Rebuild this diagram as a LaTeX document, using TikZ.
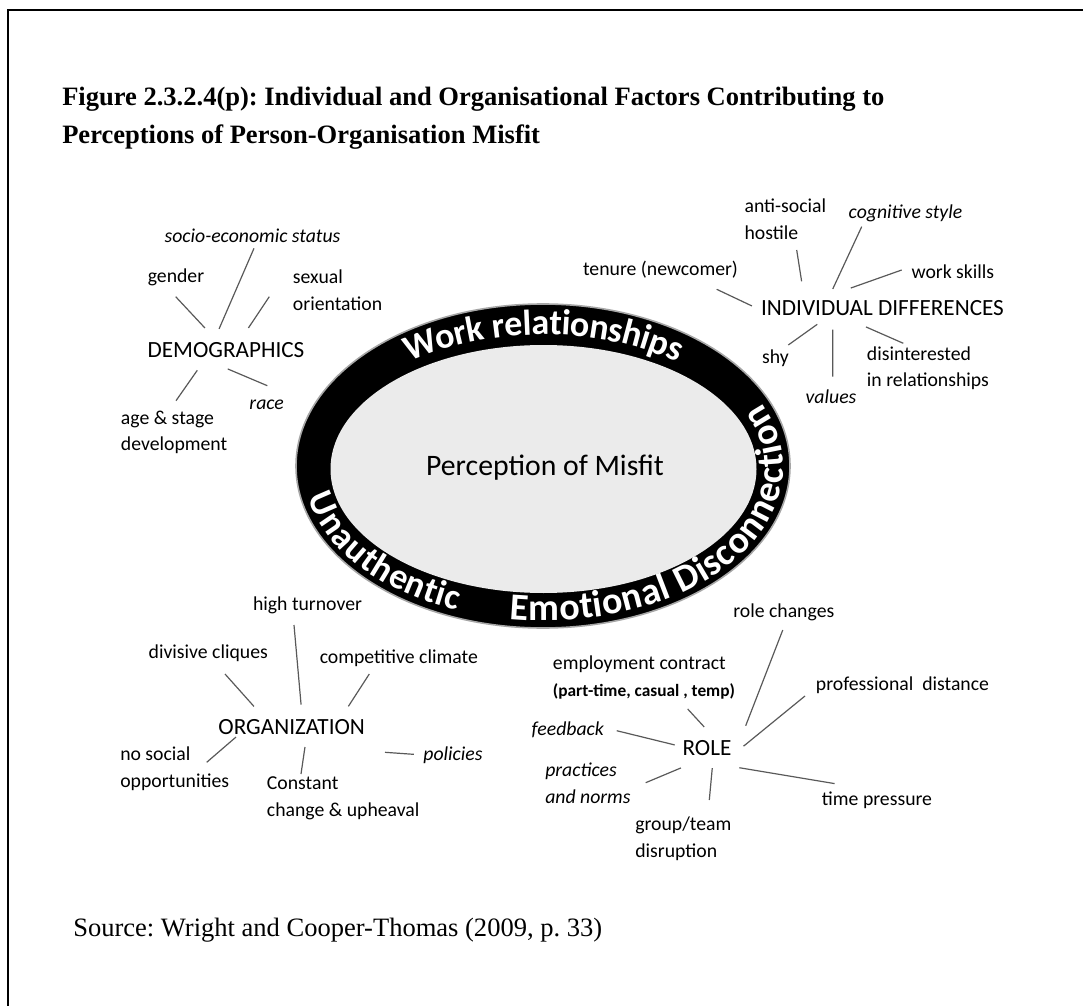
\documentclass[tikz,border=0pt]{standalone}
\usepackage{fontspec}
\setmainfont{Liberation Serif}
\newfontfamily\carl{Carlito}
\usetikzlibrary{decorations.text}
\frenchspacing

\newcommand\ringfont{\carl\bfseries\fontsize{27}{30}\selectfont}
\newcommand\ringfontb{\carl\bfseries\fontsize{28.5}{31}\selectfont}

\tikzset{
  lbl/.style={font=\carl\fontsize{14.8}{20}\selectfont, inner sep=0pt, align=left},
  ilbl/.style={lbl, font=\carl\itshape\fontsize{14.8}{20}\selectfont},
  hub/.style={font=\carl\fontsize{17.4}{21}\selectfont, inner sep=0pt},
  spoke/.style={draw=black!65, line width=0.9pt},
  ringtext/.style={decorate, decoration={text along path, text align=center, raise=-7.5pt, text color=white}},
  heading/.style={anchor=base west, inner sep=0pt, font=\bfseries\fontsize{19.9}{24}\selectfont}
}

\begin{document}
\begin{tikzpicture}[x=0.75pt, y=0.75pt]
    \useasboundingbox (0,0) rectangle (1083,-1006);
    \draw[line width=1.3pt] (8,-1006) -- (8,-10) -- (1083,-10);

    \node[heading] (title1) at (62,-106) {Figure 2.3.2.4(p): Individual and Organisational Factors Contributing to};
    \node[heading] (title2) at (62,-144) {Perceptions of Person-Organisation Misfit};
    \node[heading, font=\fontsize{19.9}{24}\selectfont] (source) at (73,-936) {Source: Wright and Cooper-Thomas (2009, p. 33)};

    % the ring
    \fill[black, draw=black!35, line width=1.2pt] (543,-466) ellipse [x radius=185.25pt, y radius=121.5pt];
    \fill[black!8] (543.5,-469) ellipse [x radius=159.75pt, y radius=93pt];
    \path[ringtext, decoration={text={|\ringfont|Work relationships}}] (543.5,-467.5) ++(150:172.5pt and 107.25pt) arc[start angle=150, end angle=30, x radius=172.5pt, y radius=107.25pt];
    \path[ringtext, decoration={text={|\ringfont|Unauthentic}}] (543.5,-467.5) ++(165:172.5pt and 107.25pt) arc[start angle=165, end angle=265, x radius=172.5pt, y radius=107.25pt];
    \path[ringtext, decoration={text={|\ringfontb|Emotional Disconnection}}] (543.5,-467.5) ++(248:172.5pt and 107.25pt) arc[start angle=248, end angle=402, x radius=172.5pt, y radius=107.25pt];
    \node[font=\carl\fontsize{22.3}{26}\selectfont, inner sep=0pt] (misfit) at (545,-468) {Perception of Misfit};

    % demographics
    \node[hub] (demo) at (226,-350) {DEMOGRAPHICS};
    \node[ilbl] (socio) at (252.5,-236) {socio-economic status};
    \node[lbl] (gender) at (176,-277) {gender};
    \node[lbl, anchor=west] (sexual) at (292.7,-290) {sexual\\orientation};
    \node[ilbl] (race) at (266.7,-405) {race};
    \node[lbl, anchor=west] (age) at (120.7,-432.5) {age \& stage\\development};
    \coordinate (gender-e) at (175.7,-296.7);
    \coordinate (socio-e) at (254,-248.3);
    \coordinate (sexual-e) at (269.3,-296.7);
    \coordinate (age-e) at (176,-400.7);
    \coordinate (race-e) at (267.3,-385.7);
    \draw[spoke, shorten <=14.5pt] ([xshift=-5.9pt]demo.north) -- (gender-e);
    \draw[spoke, shorten <=10.8pt] ([xshift=-9.5pt]demo.north) -- (socio-e);
    \draw[spoke, shorten <=12.8pt] ([xshift=9.7pt]demo.north) -- (sexual-e);
    \draw[spoke, shorten <=11.4pt] ([xshift=-15pt]demo.south) -- (age-e);
    \draw[spoke, shorten <=21.3pt] ([xshift=-18.3pt]demo.south) -- (race-e);

    % individual differences
    \node[hub] (indiv) at (882.5,-308.3) {INDIVIDUAL DIFFERENCES};
    \node[lbl, anchor=west] (hostile) at (744.3,-219) {anti-social\\hostile};
    \node[ilbl] (cogn) at (905.5,-213) {cognitive style};
    \node[lbl] (tenure) at (660.5,-270) {tenure (newcomer)};
    \node[lbl] (skills) at (952.9,-271.7) {work skills};
    \node[lbl] (shy) at (775.5,-358) {shy};
    \node[ilbl] (values) at (831,-396.7) {values};
    \node[lbl, anchor=west] (disint) at (866.7,-368.4) {disinterested\\in relationships};
    \coordinate (tenure-e) at (716.7,-289.3);
    \coordinate (hostile-e) at (796.7,-250);
    \coordinate (cogn-e) at (861.7,-226.7);
    \coordinate (skills-e) at (901.7,-270);
    \coordinate (shy-e) at (788.3,-345);
    \coordinate (values-e) at (832.7,-376.7);
    \coordinate (disint-e) at (903.3,-343.3);
    \draw[spoke, shorten <=7.4pt] ([yshift=-1.4pt]indiv.west) -- (tenure-e);
    \draw[spoke, shorten <=14.5pt] ([xshift=-58.4pt]indiv.north) -- (hostile-e);
    \draw[spoke, shorten <=9.5pt] ([xshift=-41.3pt]indiv.north) -- (cogn-e);
    \draw[spoke, shorten <=27.8pt] ([xshift=-50pt]indiv.north) -- (skills-e);
    \draw[spoke, shorten <=10.5pt] ([xshift=-40.4pt]indiv.south) -- (shy-e);
    \draw[spoke, shorten <=10.1pt] ([xshift=-37.4pt]indiv.south) -- (values-e);
    \draw[spoke, shorten <=20.1pt] ([xshift=-30.8pt]indiv.south) -- (disint-e);

    % organization
    \node[hub] (org) at (291.7,-727) {ORGANIZATION};
    \node[lbl] (turnover) at (307.5,-605) {high turnover};
    \node[lbl] (cliques) at (208.3,-653) {divisive cliques};
    \node[lbl] (climate) at (398.8,-658) {competitive climate};
    \node[lbl, anchor=west] (nosocial) at (120,-768.5) {no social\\opportunities};
    \node[lbl, anchor=west] (constant) at (266.7,-798.5) {Constant\\change \& upheaval};
    \node[ilbl] (policies) at (453,-755) {policies};
    \coordinate (turnover-e) at (294,-625);
    \coordinate (cliques-e) at (225,-674);
    \coordinate (climate-e) at (369.3,-674);
    \coordinate (nosocial-e) at (206.7,-762.3);
    \coordinate (constant-e) at (301,-774);
    \coordinate (policies-e) at (385,-752.3);
    \draw[spoke, shorten <=10.9pt] ([xshift=8pt]org.north) -- (turnover-e);
    \draw[spoke, shorten <=12.8pt] ([xshift=-19.8pt]org.north) -- (cliques-e);
    \draw[spoke, shorten <=11.4pt] ([xshift=36.3pt]org.north) -- (climate-e);
    \draw[spoke, shorten <=2.5pt] ([xshift=-39.9pt]org.south) -- (nosocial-e);
    \draw[spoke, shorten <=9.2pt] ([xshift=11.3pt]org.south) -- (constant-e);
    \draw[spoke, shorten <=7pt] (policies.west) -- (policies-e);

    % role
    \node[hub] (role) at (707,-748) {ROLE};
    \node[lbl] (rolechg) at (783.8,-612) {role changes};
    \node[lbl, anchor=west] (contract) at (552.7,-677.5) {employment contract\\{\bfseries\fontsize{13}{20}\selectfont (part-time, casual , temp)}};
    \node[lbl] (distance) at (902.5,-685) {professional~ distance};
    \node[ilbl] (feedback) at (567.8,-730) {feedback};
    \node[ilbl, anchor=west] (practices) at (545,-783.5) {practices\\and norms};
    \node[lbl] (pressure) at (877,-800) {time pressure};
    \node[lbl, anchor=west] (team) at (635,-838.5) {group/team\\disruption};
    \coordinate (rolechg-e) at (745.7,-725.7);
    \coordinate (contract-e) at (687.7,-709);
    \coordinate (distance-e) at (805,-696);
    \coordinate (feedback-e) at (616.7,-730.7);
    \coordinate (practices-e) at (645.7,-782.7);
    \coordinate (team-e) at (709.3,-800);
    \coordinate (pressure-e) at (739.3,-767.7);
    \draw[spoke, shorten <=7.4pt] ([xshift=1.9pt]rolechg.south) -- (rolechg-e);
    \draw[spoke, shorten <=13.4pt] ([xshift=7pt]role.north) -- (contract-e);
    \draw[spoke, shorten <=11.5pt] (role.south east) -- (distance-e);
    \draw[spoke, shorten <=5.9pt] ([yshift=0.9pt]role.west) -- (feedback-e);
    \draw[spoke, shorten <=23.4pt] ([xshift=2pt]role.south) -- (practices-e);
    \draw[spoke, shorten <=9.2pt] ([xshift=4.8pt]role.south) -- (team-e);
    \draw[spoke, shorten <=35.3pt] ([xshift=3pt]pressure.north) -- (pressure-e);
\end{tikzpicture}
\end{document}
